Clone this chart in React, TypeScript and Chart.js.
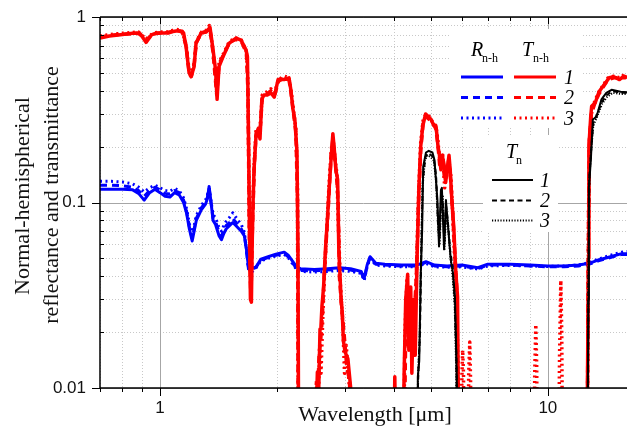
import React, { useEffect, useRef } from "react";
import { Chart, registerables } from "chart.js";

Chart.register(...registerables);

// ---------- axis ticks ----------
const X_TICKS = [0.7, 0.8, 0.9, 1, 2, 3, 4, 5, 6, 7, 8, 9, 10];
const X_LABELED = [1, 10];
const Y_TICKS = [0.01, 0.02, 0.03, 0.04, 0.05, 0.06, 0.07, 0.08, 0.09, 0.1, 0.2, 0.3, 0.4, 0.5, 0.6, 0.7, 0.8, 0.9, 1];
const Y_LABELED = [0.01, 0.1, 1];
const X_RANGE = [0.7, 16];
const Y_RANGE = [0.01, 1];

// ---------- R n-h (blue) ----------
const rWl = [0.70, 0.75, 0.80, 0.85, 0.88, 0.91, 0.94, 0.97, 1.00, 1.03, 1.06, 1.09, 1.12, 1.15, 1.17, 1.19, 1.21, 1.24, 1.28, 1.31, 1.325, 1.338, 1.35, 1.37, 1.39, 1.42, 1.44, 1.46, 1.48, 1.51, 1.54, 1.57, 1.62, 1.65, 1.67, 1.69, 1.72, 1.77, 1.82, 1.90, 1.99, 2.09, 2.14, 2.20, 2.25, 2.30, 2.50, 2.70, 2.90, 3.10, 3.30, 3.36, 3.42, 3.48, 3.60, 3.80, 4.20, 4.60, 4.85, 5.10, 5.50, 6.00, 6.60, 7.00, 8.00, 9.00, 10.0, 11.0, 12.0, 12.8, 13.5, 14.5, 15.5, 16.0];
const r1 = [0.118, 0.118, 0.118, 0.117, 0.112, 0.103, 0.113, 0.118, 0.113, 0.108, 0.107, 0.113, 0.110, 0.100, 0.088, 0.072, 0.062, 0.080, 0.092, 0.098, 0.105, 0.122, 0.105, 0.080, 0.076, 0.066, 0.063, 0.068, 0.072, 0.075, 0.078, 0.075, 0.070, 0.066, 0.056, 0.045, 0.044, 0.045, 0.0495, 0.051, 0.0527, 0.054, 0.052, 0.048, 0.045, 0.044, 0.0435, 0.044, 0.0445, 0.044, 0.0425, 0.039, 0.046, 0.051, 0.047, 0.0465, 0.046, 0.046, 0.048, 0.046, 0.0455, 0.046, 0.0445, 0.0465, 0.0465, 0.046, 0.0455, 0.0455, 0.046, 0.047, 0.049, 0.051, 0.053, 0.053];
const r2 = [0.124, 0.124, 0.123, 0.121, 0.116, 0.108, 0.116, 0.121, 0.117, 0.112, 0.111, 0.116, 0.113, 0.103, 0.090, 0.074, 0.064, 0.082, 0.094, 0.100, 0.107, 0.120, 0.104, 0.082, 0.079, 0.069, 0.066, 0.071, 0.075, 0.078, 0.082, 0.078, 0.072, 0.067, 0.055, 0.044, 0.043, 0.045, 0.049, 0.0505, 0.052, 0.053, 0.051, 0.047, 0.044, 0.043, 0.0428, 0.0432, 0.0438, 0.0432, 0.042, 0.0385, 0.0455, 0.0505, 0.0465, 0.046, 0.0455, 0.0455, 0.0475, 0.0455, 0.045, 0.0455, 0.044, 0.046, 0.046, 0.0455, 0.045, 0.045, 0.0455, 0.0465, 0.0485, 0.0505, 0.0525, 0.0525];
const r3 = [0.130, 0.130, 0.129, 0.126, 0.121, 0.114, 0.120, 0.124, 0.120, 0.116, 0.115, 0.119, 0.116, 0.106, 0.093, 0.077, 0.067, 0.085, 0.097, 0.103, 0.110, 0.118, 0.105, 0.086, 0.083, 0.073, 0.070, 0.075, 0.079, 0.083, 0.088, 0.083, 0.076, 0.069, 0.056, 0.044, 0.042, 0.0445, 0.0485, 0.050, 0.0515, 0.0525, 0.0505, 0.0465, 0.0435, 0.0425, 0.0422, 0.0425, 0.043, 0.0425, 0.0415, 0.038, 0.045, 0.050, 0.046, 0.0455, 0.045, 0.045, 0.047, 0.045, 0.0448, 0.045, 0.0438, 0.0455, 0.0458, 0.0455, 0.0452, 0.0455, 0.046, 0.0475, 0.0495, 0.052, 0.054, 0.0545];

// ---------- T n-h (red) ----------
const tWl1 = [0.70, 0.74, 0.78, 0.82, 0.86, 0.89, 0.92, 0.95, 0.98, 1.00, 1.03, 1.06, 1.10, 1.133, 1.15, 1.167, 1.188, 1.202, 1.224, 1.238, 1.276, 1.314, 1.345, 1.37, 1.39, 1.403, 1.419, 1.453, 1.506, 1.57, 1.617, 1.666, 1.68, 1.69, 1.70, 1.71, 1.72, 1.728, 1.737, 1.747, 1.768, 1.79, 1.81, 1.83, 1.853, 1.89, 1.932, 1.97, 2.015, 2.087, 2.15, 2.176, 2.2, 2.226, 2.254, 2.268, 2.28, 2.5, 2.52, 2.545, 2.56, 2.585, 2.6, 2.615, 2.64, 2.67, 2.7, 2.73, 2.76, 2.79, 2.81, 2.84, 2.87, 2.89, 2.93, 2.95, 2.97, 3.0, 3.05, 3.1, 3.13, 4.0, 4.03, 4.06, 4.22, 4.26, 4.3, 4.35, 4.38, 4.43, 4.46, 4.51, 4.55, 4.6, 4.65, 4.7, 4.76, 4.84, 4.92, 5.0, 5.08, 5.15, 5.21, 5.26, 5.3, 5.34, 5.4, 5.45, 5.5, 5.56, 5.6, 5.66, 5.72, 5.79, 5.85, 5.89, 12.6, 12.72, 12.76, 12.9, 12.97, 13.25, 13.55, 13.95, 14.4, 14.8, 15.3, 15.7, 16.0];
const t1 = [0.77, 0.79, 0.80, 0.81, 0.82, 0.81, 0.73, 0.80, 0.82, 0.82, 0.82, 0.83, 0.84, 0.84, 0.82, 0.69, 0.50, 0.476, 0.54, 0.72, 0.82, 0.83, 0.88, 0.665, 0.52, 0.36, 0.54, 0.61, 0.72, 0.77, 0.75, 0.665, 0.61, 0.25, 0.08, 0.03, 0.029, 0.06, 0.1, 0.15, 0.23, 0.25, 0.22, 0.36, 0.38, 0.38, 0.39, 0.37, 0.46, 0.46, 0.47, 0.40, 0.32, 0.28, 0.19, 0.056, 0.002, 0.002, 0.006, 0.0122, 0.008, 0.0208, 0.0216, 0.0276, 0.035, 0.056, 0.08, 0.12, 0.17, 0.235, 0.2, 0.15, 0.133, 0.056, 0.03, 0.0256, 0.018, 0.0156, 0.0144, 0.0101, 0.003, 0.003, 0.0115, 0.004, 0.003, 0.012, 0.03, 0.041, 0.016, 0.035, 0.012, 0.03, 0.015, 0.05, 0.12, 0.2, 0.26, 0.30, 0.29, 0.28, 0.26, 0.256, 0.2, 0.177, 0.15, 0.18, 0.16, 0.128, 0.15, 0.18, 0.15, 0.1, 0.074, 0.042, 0.031, 0.004, 0.003, 0.05, 0.2, 0.29, 0.33, 0.345, 0.395, 0.43, 0.47, 0.476, 0.46, 0.48, 0.47];

const tWl2 = [0.70, 0.76, 0.82, 0.88, 0.92, 0.96, 1.0, 1.05, 1.1, 1.14, 1.167, 1.19, 1.205, 1.225, 1.24, 1.28, 1.32, 1.345, 1.37, 1.40, 1.42, 1.46, 1.51, 1.57, 1.62, 1.67, 1.685, 1.70, 1.715, 1.73, 1.75, 1.77, 1.795, 1.815, 1.835, 1.87, 1.93, 1.975, 2.02, 2.09, 2.15, 2.18, 2.21, 2.24, 2.262, 2.275, 2.52, 2.55, 2.57, 2.6, 2.62, 2.65, 2.68, 2.72, 2.76, 2.79, 2.82, 2.85, 2.88, 2.9, 2.94, 2.98, 3.03, 3.08, 3.12, 4.25, 4.3, 4.34, 4.4, 4.45, 4.5, 4.58, 4.64, 4.7, 4.77, 4.85, 4.95, 5.05, 5.14, 5.2, 5.26, 5.31, 5.36, 5.42, 5.48, 5.55, 5.62, 5.68, 5.75, 5.82, 5.88, 12.62, 12.73, 12.8, 12.95, 13.2, 13.5, 13.9, 14.3, 14.8, 15.3, 15.8, 16.0];
const t2 = [0.78, 0.80, 0.81, 0.82, 0.75, 0.81, 0.82, 0.82, 0.85, 0.83, 0.70, 0.49, 0.48, 0.56, 0.73, 0.82, 0.84, 0.86, 0.64, 0.38, 0.56, 0.63, 0.73, 0.76, 0.74, 0.64, 0.4, 0.06, 0.03, 0.07, 0.16, 0.24, 0.24, 0.26, 0.37, 0.38, 0.40, 0.38, 0.45, 0.47, 0.46, 0.38, 0.30, 0.24, 0.1, 0.002, 0.002, 0.009, 0.015, 0.019, 0.024, 0.04, 0.06, 0.1, 0.18, 0.22, 0.18, 0.14, 0.1, 0.04, 0.027, 0.02, 0.013, 0.011, 0.004, 0.003, 0.02, 0.035, 0.02, 0.03, 0.02, 0.04, 0.1, 0.19, 0.27, 0.29, 0.28, 0.27, 0.25, 0.21, 0.16, 0.17, 0.17, 0.13, 0.14, 0.17, 0.13, 0.09, 0.055, 0.035, 0.005, 0.003, 0.08, 0.22, 0.3, 0.34, 0.38, 0.42, 0.46, 0.47, 0.47, 0.47, 0.48];

const tWl3 = [0.70, 0.76, 0.82, 0.88, 0.92, 0.96, 1.0, 1.05, 1.1, 1.14, 1.167, 1.19, 1.205, 1.225, 1.24, 1.28, 1.32, 1.34, 1.37, 1.40, 1.42, 1.46, 1.51, 1.57, 1.62, 1.67, 1.685, 1.70, 1.715, 1.73, 1.75, 1.77, 1.795, 1.815, 1.835, 1.87, 1.93, 1.975, 2.02, 2.09, 2.15, 2.18, 2.21, 2.24, 2.262, 2.275, 2.51, 2.53, 2.55, 2.58, 2.6, 2.63, 2.66, 2.69, 2.73, 2.77, 2.8, 2.83, 2.86, 2.88, 2.92, 2.96, 2.99, 3.02, 3.06, 3.1, 3.12, 4.01, 4.03, 4.05, 4.24, 4.28, 4.33, 4.37, 4.41, 4.45, 4.49, 4.53, 4.59, 4.64, 4.7, 4.77, 4.85, 4.95, 5.05, 5.14, 5.2, 5.26, 5.31, 5.36, 5.42, 5.48, 5.55, 5.62, 5.68, 5.75, 5.82, 5.87, 5.9, 5.98, 6.0, 6.03, 6.06, 6.08, 6.22, 6.25, 6.29, 6.32, 6.34, 9.2, 9.25, 9.31, 9.36, 9.4, 10.65, 10.72, 10.8, 10.86, 10.92, 12.62, 12.73, 12.8, 12.95, 13.2, 13.5, 13.9, 14.3, 14.8, 15.3, 15.8, 16.0];
const t3 = [0.79, 0.81, 0.82, 0.83, 0.76, 0.82, 0.83, 0.83, 0.86, 0.84, 0.71, 0.50, 0.49, 0.57, 0.74, 0.83, 0.85, 0.9, 0.66, 0.4, 0.57, 0.64, 0.74, 0.77, 0.75, 0.65, 0.45, 0.07, 0.032, 0.08, 0.17, 0.25, 0.25, 0.27, 0.38, 0.39, 0.41, 0.39, 0.46, 0.48, 0.47, 0.39, 0.31, 0.25, 0.12, 0.002, 0.002, 0.011, 0.006, 0.017, 0.012, 0.025, 0.045, 0.07, 0.13, 0.2, 0.21, 0.17, 0.14, 0.08, 0.035, 0.022, 0.012, 0.017, 0.012, 0.008, 0.003, 0.003, 0.01, 0.003, 0.003, 0.02, 0.038, 0.025, 0.033, 0.02, 0.028, 0.02, 0.045, 0.11, 0.21, 0.28, 0.30, 0.29, 0.27, 0.26, 0.22, 0.17, 0.16, 0.18, 0.12, 0.15, 0.17, 0.14, 0.09, 0.05, 0.03, 0.012, 0.003, 0.003, 0.011, 0.016, 0.012, 0.004, 0.003, 0.012, 0.0177, 0.011, 0.003, 0.003, 0.012, 0.022, 0.013, 0.003, 0.003, 0.015, 0.038, 0.02, 0.003, 0.003, 0.07, 0.21, 0.3, 0.35, 0.39, 0.43, 0.47, 0.48, 0.47, 0.49, 0.48];

// ---------- T n (black) ----------
const nWl1 = [0.7, 4.55, 4.6, 4.62, 4.66, 4.7, 4.74, 4.77, 4.85, 4.93, 5.04, 5.1, 5.19, 5.24, 5.3, 5.33, 5.4, 5.46, 5.5, 5.62, 5.69, 5.76, 5.82, 5.86, 12.6, 12.72, 12.76, 12.91, 13.06, 13.35, 13.75, 14.15, 14.6, 15.4, 16.0];
const n1 = [0.001, 0.001, 0.006, 0.0115, 0.014, 0.04, 0.07, 0.156, 0.186, 0.19, 0.186, 0.17, 0.104, 0.058, 0.117, 0.12, 0.056, 0.103, 0.085, 0.049, 0.042, 0.031, 0.012, 0.002, 0.001, 0.03, 0.12, 0.17, 0.28, 0.29, 0.36, 0.39, 0.405, 0.395, 0.393];
const nWl2 = [0.7, 4.57, 4.61, 4.64, 4.68, 4.72, 4.76, 4.83, 4.9, 5.0, 5.08, 5.15, 5.21, 5.26, 5.31, 5.36, 5.41, 5.47, 5.52, 5.6, 5.68, 5.75, 5.81, 5.86, 12.62, 12.73, 12.8, 12.95, 13.1, 13.4, 13.8, 14.2, 14.7, 15.4, 16.0];
const n2 = [0.001, 0.001, 0.008, 0.013, 0.02, 0.06, 0.13, 0.175, 0.185, 0.18, 0.175, 0.14, 0.075, 0.065, 0.11, 0.1, 0.06, 0.095, 0.08, 0.055, 0.045, 0.03, 0.015, 0.002, 0.001, 0.04, 0.14, 0.2, 0.27, 0.3, 0.35, 0.38, 0.4, 0.39, 0.39];
const nWl3 = [0.7, 4.56, 4.6, 4.63, 4.67, 4.71, 4.75, 4.82, 4.9, 5.0, 5.08, 5.15, 5.22, 5.26, 5.31, 5.36, 5.41, 5.47, 5.53, 5.6, 5.68, 5.75, 5.8, 5.85, 12.62, 12.72, 12.78, 12.93, 13.1, 13.4, 13.8, 14.2, 14.7, 15.4, 16.0];
const n3 = [0.001, 0.001, 0.007, 0.012, 0.018, 0.05, 0.12, 0.17, 0.18, 0.175, 0.168, 0.13, 0.07, 0.06, 0.1, 0.11, 0.055, 0.09, 0.075, 0.052, 0.04, 0.028, 0.013, 0.002, 0.001, 0.035, 0.13, 0.19, 0.26, 0.29, 0.34, 0.37, 0.39, 0.385, 0.385];

const BLUE = "#0000ff";
const RED = "#ff0000";
const BLACK = "#000000";
const DASH_COLORED = [7, 5];
const DOT_COLORED = [2, 3.5];
const DASH_BLACK = [5, 3.5];
const DOT_BLACK = [1.2, 1.6];

const SERIES = [
  { xs: nWl1, ys: n1, color: BLACK, width: 2, dash: [] as number[] },
  { xs: nWl2, ys: n2, color: BLACK, width: 2, dash: DASH_BLACK },
  { xs: nWl3, ys: n3, color: BLACK, width: 2, dash: DOT_BLACK },
  { xs: tWl1, ys: t1, color: RED, width: 3.5, dash: [] as number[] },
  { xs: tWl2, ys: t2, color: RED, width: 3.5, dash: DASH_COLORED },
  { xs: tWl3, ys: t3, color: RED, width: 3.5, dash: DOT_COLORED },
  { xs: rWl, ys: r1, color: BLUE, width: 3, dash: [] as number[] },
  { xs: rWl, ys: r2, color: BLUE, width: 3, dash: DASH_COLORED },
  { xs: rWl, ys: r3, color: BLUE, width: 3, dash: DOT_COLORED },
];

const SERIF = "'Liberation Serif', 'Times New Roman', serif";
const SANS = "'Liberation Sans', Arial, sans-serif";

const decorPlugin = {
  id: "decor",
  beforeDatasetsDraw(chart: any) {
    const { ctx, chartArea: a, scales } = chart;
    const xs = scales.x, ys = scales.y;
    ctx.save();
    // minor grid (dotted)
    ctx.lineWidth = 1;
    ctx.strokeStyle = "#c8c8c8";
    ctx.setLineDash([1, 2]);
    X_TICKS.filter((v) => !X_LABELED.includes(v)).forEach((v) => {
      const px = Math.round(xs.getPixelForValue(v)) + 0.5;
      ctx.beginPath(); ctx.moveTo(px, a.top); ctx.lineTo(px, a.bottom); ctx.stroke();
    });
    Y_TICKS.filter((v) => !Y_LABELED.includes(v)).forEach((v) => {
      const py = Math.round(ys.getPixelForValue(v)) + 0.5;
      ctx.beginPath(); ctx.moveTo(a.left, py); ctx.lineTo(a.right, py); ctx.stroke();
    });
    // major grid (solid)
    ctx.setLineDash([]);
    ctx.strokeStyle = "#a6a6a6";
    X_LABELED.forEach((v) => {
      const px = Math.round(xs.getPixelForValue(v)) + 0.5;
      ctx.beginPath(); ctx.moveTo(px, a.top); ctx.lineTo(px, a.bottom); ctx.stroke();
    });
    Y_LABELED.forEach((v) => {
      const py = Math.round(ys.getPixelForValue(v)) + 0.5;
      ctx.beginPath(); ctx.moveTo(a.left, py); ctx.lineTo(a.right, py); ctx.stroke();
    });
    // legend backgrounds
    ctx.fillStyle = "#ffffff";
    ctx.fillRect(450, 29, 133, 99);
    ctx.fillRect(483, 135, 75, 97);
    ctx.restore();
  },
  afterDatasetsDraw(chart: any) {
    const { ctx, chartArea: a, scales } = chart;
    const xs = scales.x, ys = scales.y;
    ctx.save();
    // axis lines
    ctx.strokeStyle = "#000";
    ctx.lineWidth = 1.5;
    ctx.setLineDash([]);
    ctx.beginPath();
    ctx.moveTo(a.left, a.top); ctx.lineTo(a.right, a.top);
    ctx.moveTo(a.left, a.top); ctx.lineTo(a.left, a.bottom);
    ctx.moveTo(a.left, a.bottom); ctx.lineTo(a.right, a.bottom);
    ctx.stroke();
    ctx.lineWidth = 1;
    X_TICKS.forEach((v) => {
      const major = X_LABELED.includes(v);
      const px = Math.round(xs.getPixelForValue(v)) + 0.5;
      ctx.beginPath();
      ctx.moveTo(px, a.bottom); ctx.lineTo(px, a.bottom + (major ? 8 : 4));
      ctx.moveTo(px, a.top); ctx.lineTo(px, a.top + (major ? 7 : 4));
      ctx.stroke();
    });
    Y_TICKS.forEach((v) => {
      const major = Y_LABELED.includes(v);
      const py = Math.round(ys.getPixelForValue(v)) + 0.5;
      ctx.beginPath();
      if (major) { ctx.moveTo(a.left - 8, py); ctx.lineTo(a.left, py); }
      else { ctx.moveTo(a.left, py); ctx.lineTo(a.left + 4, py); }
      ctx.stroke();
    });
    // y tick labels
    ctx.fillStyle = "#111";
    ctx.font = `17px ${SANS}`;
    ctx.textAlign = "right";
    ctx.textBaseline = "middle";
    Y_LABELED.forEach((v) => {
      ctx.fillText(String(v), a.left - 14, ys.getPixelForValue(v));
    });

    // axis titles
    ctx.fillStyle = "#111";
    ctx.font = `22px ${SERIF}`;
    ctx.textAlign = "center";
    ctx.textBaseline = "alphabetic";
    ctx.fillText("Wavelength [\u03bcm]", 375, 421);
    ctx.save();
    ctx.translate(29, 196);
    ctx.rotate(-Math.PI / 2);
    ctx.fillText("Normal-hemispherical", 0, 0);
    ctx.restore();
    ctx.save();
    ctx.translate(58, 195);
    ctx.rotate(-Math.PI / 2);
    ctx.fillText("reflectance and transmittance", 0, 0);
    ctx.restore();

    // legend
    const seg = (x1: number, x2: number, y: number, color: string, w: number, dash: number[]) => {
      ctx.beginPath();
      ctx.strokeStyle = color;
      ctx.lineWidth = w;
      ctx.setLineDash(dash);
      ctx.moveTo(x1, y); ctx.lineTo(x2, y); ctx.stroke();
    };
    ctx.textAlign = "left";
    ctx.fillStyle = "#000";
    ctx.font = `italic 20px ${SERIF}`;
    ctx.fillText("R", 471, 56);
    ctx.fillText("T", 522, 56);
    ctx.font = `12px ${SERIF}`;
    ctx.fillText("n-h", 482, 62);
    ctx.fillText("n-h", 533, 62);
    const rows = [77, 97.5, 118];
    const styles = [[] as number[], DASH_COLORED, DOT_COLORED];
    const nums = ["1", "2", "3"];
    rows.forEach((y, i) => {
      seg(461, 503, y, BLUE, 3, styles[i]);
      seg(514, 556, y, RED, 3, styles[i]);
      ctx.font = `italic 20px ${SERIF}`;
      ctx.fillStyle = "#000";
      ctx.fillText(nums[i], 564, y + 6.5);
    });
    ctx.font = `italic 20px ${SERIF}`;
    ctx.fillText("T", 506, 158);
    ctx.font = `12px ${SERIF}`;
    ctx.fillText("n", 516, 164);
    const rowsN = [180, 200.5, 220.5];
    const stylesN = [[] as number[], DASH_BLACK, DOT_BLACK];
    rowsN.forEach((y, i) => {
      seg(492, 533, y, BLACK, 2, stylesN[i]);
      ctx.font = `italic 20px ${SERIF}`;
      ctx.fillStyle = "#000";
      ctx.fillText(nums[i], 540, y + 6.5);
    });
    ctx.restore();
  },
};

export default function App() {
  const ref = useRef<HTMLCanvasElement | null>(null);
  useEffect(() => {
    document.body.style.margin = "0";
    const canvas = ref.current;
    if (!canvas) return;
    const chart = new Chart(canvas, {
      type: "line",
      data: {
        datasets: SERIES.map((s) => ({
          data: s.xs.map((x, i) => ({ x, y: s.ys[i] })),
          borderColor: s.color,
          backgroundColor: s.color,
          borderWidth: s.width,
          borderDash: s.dash,
          borderJoinStyle: "round" as const,
          pointRadius: 0,
          pointHitRadius: 0,
          tension: 0,
          fill: false,
        })),
      },
      options: {
        animation: false,
        responsive: false,
        events: [],
        layout: { padding: { top: 17, right: 0, left: 0, bottom: 0 } },
        plugins: { legend: { display: false }, tooltip: { enabled: false } },
        scales: {
          x: {
            type: "logarithmic",
            min: X_RANGE[0],
            max: X_RANGE[1],
            grid: { display: false, drawTicks: false },
            border: { display: false },
            afterBuildTicks: (scale: any) => {
              scale.ticks = X_TICKS.map((v) => ({ value: v }));
            },
            afterFit: (scale: any) => {
              scale.height = 38;
            },
            ticks: {
              autoSkip: false,
              maxRotation: 0,
              padding: 10,
              color: "#111",
              font: { family: SANS, size: 17 },
              callback: (v: any) => (X_LABELED.includes(Number(v)) ? String(v) : ""),
            },
          },
          y: {
            type: "logarithmic",
            min: Y_RANGE[0],
            max: Y_RANGE[1],
            grid: { display: false, drawTicks: false },
            border: { display: false },
            afterBuildTicks: (scale: any) => {
              scale.ticks = Y_TICKS.map((v) => ({ value: v }));
            },
            afterFit: (scale: any) => {
              scale.width = 100;
            },
            ticks: { display: false, padding: 0 },
          },
        },
      },
      plugins: [decorPlugin],
    });
    return () => chart.destroy();
  }, []);
  return (
    <div style={{ position: "absolute", left: 0, top: 0, width: 627, height: 426, background: "#fff" }}>
      <canvas ref={ref} width={627} height={426} style={{ display: "block" }} />
    </div>
  );
}
